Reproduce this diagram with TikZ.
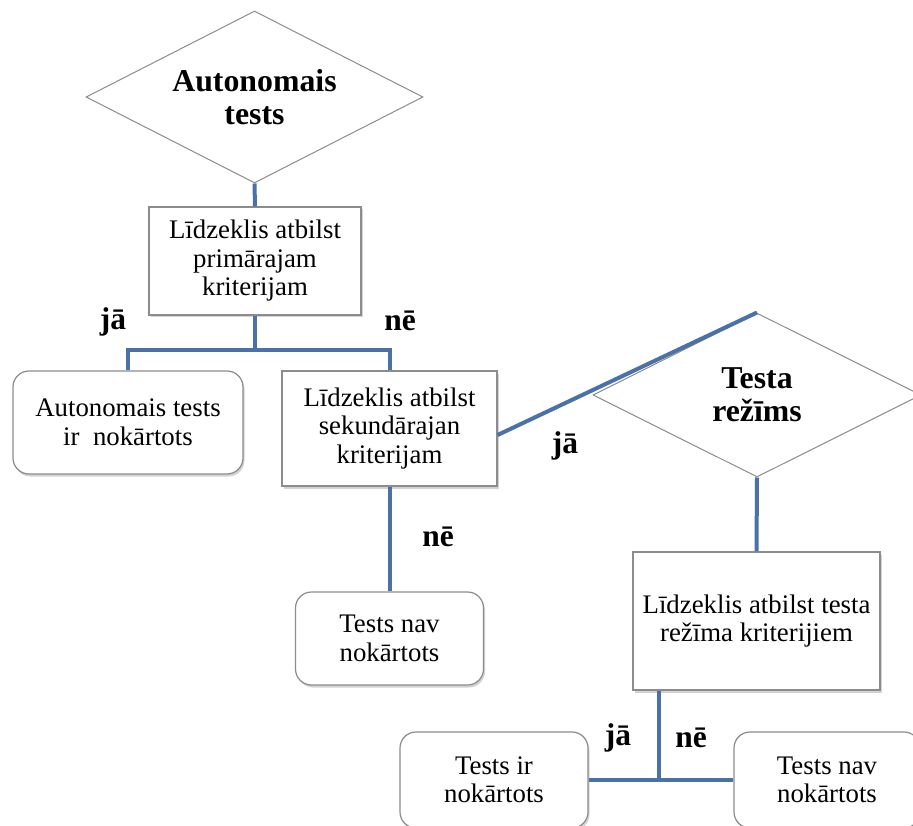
\documentclass[tikz,border=0pt]{standalone}
\usepackage{fontspec}
\setmainfont{Liberation Serif}[BoldFont={Liberation Serif Bold}]
\usetikzlibrary{shapes.geometric,shadows}
\definecolor{linkblue}{HTML}{4A72A9}
\definecolor{edgegray}{HTML}{8C8C8C}
\begin{document}
\begin{tikzpicture}[x=1pt,y=-1pt,
  boxtext/.style={font=\fontsize{26.8}{28.5}\selectfont, align=center},
  sqbox/.style={boxtext, draw=edgegray, line width=1.2pt, fill=white, inner sep=0pt,
    drop shadow={shadow xshift=1.5pt, shadow yshift=-2.5pt, opacity=0.35}},
  rbox/.style={sqbox, rounded corners=16pt},
  decision/.style={diamond, aspect=2, draw=edgegray, line width=1pt, fill=white, inner sep=0pt,
    font=\fontsize{31.8}{33}\selectfont\bfseries, align=center},
  link/.style={draw=linkblue, line width=4pt},
  answer/.style={font=\fontsize{31.5}{33}\selectfont\bfseries, inner sep=0pt}]
\useasboundingbox (0,0) rectangle (913,826);

% decisions
\node[decision, minimum width=337pt, minimum height=172pt] (d1) at (254.5,97) {Autonomais\\tests};
\node[decision, minimum width=328pt, minimum height=164pt] (d2) at (757,395) {Testa\\režīms};

% boxes
\node[sqbox, minimum width=212pt, minimum height=108pt] (b1) at (255,261) {Līdzeklis atbilst\\primārajam\\kriterijam};
\node[rbox, minimum width=230pt, minimum height=103pt] (r1) at (128,422.5) {Autonomais tests\\ir~ nokārtots};
\node[sqbox, minimum width=215pt, minimum height=115pt] (b2) at (389.5,428.5) {Līdzeklis atbilst\\sekundārajan\\kriterijam};
\node[rbox, minimum width=188pt, minimum height=93pt] (r2) at (389.5,638.5) {Tests nav\\nokārtots};
\node[sqbox, minimum width=247pt, minimum height=138pt] (b3) at (756.5,621) {Līdzeklis atbilst testa\\režīma kriterijiem};
\node[rbox, minimum width=188pt, minimum height=96pt] (r3) at (494,780) {Tests ir\\nokārtots};
\node[rbox, minimum width=186pt, minimum height=96pt] (r4) at (827,780) {Tests nav\\nokārtots};

% junctions
\coordinate (j1) at (255,350);
\coordinate (j3) at (659,780);

% connectors
\draw[link] (d1.south) -- (b1.north);
\draw[link] (b1.south) -- (j1);
\draw[link] (r1.north) |- (j1) -| (b2.north);
\draw[link] ([yshift=-6.5pt]b2.east) -- (d2.north);
\draw[link] (b2.south) -- (r2.north);
\draw[link] (d2.south) -- (b3.north);
\draw[link] (b3.south -| j3) -- (j3);
\draw[link] (r3.east) -- (r4.west);

% answers
\node[answer] (a1) at (113,322) {jā};
\node[answer] (a2) at (400,321) {nē};
\node[answer] (a3) at (438,537) {nē};
\node[answer] (a4) at (565,446) {jā};
\node[answer] (a5) at (618,738) {jā};
\node[answer] (a6) at (691,738) {nē};
\end{tikzpicture}
\end{document}
